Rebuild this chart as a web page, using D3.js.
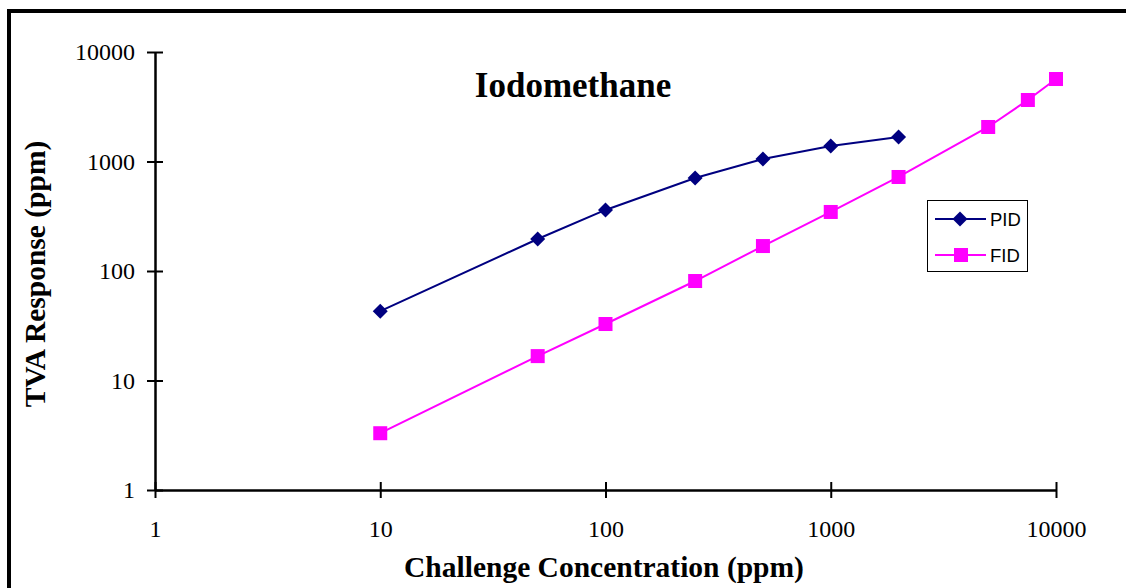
<!DOCTYPE html>
<html><head><meta charset="utf-8">
<script src="https://cdn.jsdelivr.net/npm/d3@7"></script>
<style>body{margin:0;background:#fff}svg{display:block}</style>
</head><body>
<script>
const pidX = [10, 50, 100, 250, 500, 1000, 2000];
const pidY = [43, 196, 361, 707, 1054, 1386, 1674];
const fidX = [10, 50, 100, 250, 500, 1000, 2000, 5000, 7500, 10000];
const fidY = [3.3, 16.7, 32.8, 81, 169, 346, 722, 2066, 3645, 5666];
const tickVals = [1, 10, 100, 1000, 10000];
const tickLabels = ["1", "10", "100", "1000", "10000"];
const seriesNames = ["PID", "FID"];
const title = "Iodomethane";
const xTitle = "Challenge Concentration (ppm)";
const yTitle = "TVA Response (ppm)";

const W = 1126, H = 588;
const svg = d3.select("body").append("svg").attr("width", W).attr("height", H);
svg.append("rect").attr("x", 9).attr("y", 11).attr("width", 1200).attr("height", 700)
  .attr("fill", "none").attr("stroke", "#000").attr("stroke-width", 4);

const x = d3.scaleLog().domain([1, 10000]).range([155, 1056]);
const y = d3.scaleLog().domain([1, 10000]).range([490, 52]);
const serif = "'Liberation Serif', 'Times New Roman', serif";

// axes
const xAxis = svg.append("g").attr("transform", "translate(0,490)")
  .call(d3.axisBottom(x).tickValues(tickVals).tickFormat((d, i) => tickLabels[i]).tickSizeInner(8).tickSizeOuter(0).tickPadding(22));
xAxis.selectAll(".tick line").attr("y1", -8);
const yAxis = svg.append("g").attr("transform", "translate(155,0)")
  .call(d3.axisLeft(y).tickValues(tickVals).tickFormat((d, i) => tickLabels[i]).tickSizeInner(8).tickSizeOuter(0).tickPadding(12));
yAxis.selectAll(".tick line").attr("x1", 8);
[xAxis, yAxis].forEach(a => {
  a.select(".domain").attr("stroke", "#000").attr("stroke-width", 2.5);
  a.selectAll(".tick line").attr("stroke", "#000").attr("stroke-width", 2);
  a.selectAll("text").attr("font-family", serif).attr("font-size", 24).attr("fill", "#000");
});

const line = d3.line().x(d => x(d[0])).y(d => y(d[1]));
const pid = pidX.map((v, i) => [v, pidY[i]]);
const fid = fidX.map((v, i) => [v, fidY[i]]);

svg.append("path").datum(fid).attr("d", line).attr("fill", "none").attr("stroke", "#FF00FF").attr("stroke-width", 2);
svg.append("path").datum(pid).attr("d", line).attr("fill", "none").attr("stroke", "#000080").attr("stroke-width", 2);

const sq = 14, dm = 7.5;
svg.selectAll(".fidm").data(fid).enter().append("rect")
  .attr("x", d => x(d[0]) - sq / 2).attr("y", d => y(d[1]) - sq / 2)
  .attr("width", sq).attr("height", sq).attr("fill", "#FF00FF");
const diamond = (cx, cy) => `M${cx},${cy - dm}L${cx + dm},${cy}L${cx},${cy + dm}L${cx - dm},${cy}Z`;
svg.selectAll(".pidm").data(pid).enter().append("path")
  .attr("d", d => diamond(x(d[0]), y(d[1]))).attr("fill", "#000080");

// titles
svg.append("text").attr("x", 573).attr("y", 97).attr("text-anchor", "middle")
  .attr("font-family", serif).attr("font-weight", "bold").attr("font-size", 35).text(title);
svg.append("text").attr("x", 604).attr("y", 577).attr("text-anchor", "middle")
  .attr("font-family", serif).attr("font-weight", "bold").attr("font-size", 29.5).text(xTitle);
svg.append("text").attr("transform", "translate(45,274) rotate(-90)").attr("text-anchor", "middle")
  .attr("font-family", serif).attr("font-weight", "bold").attr("font-size", 29.5).text(yTitle);

// legend
const lg = svg.append("g");
lg.append("rect").attr("x", 927.5).attr("y", 200.5).attr("width", 100).attr("height", 71)
  .attr("fill", "#fff").attr("stroke", "#000").attr("stroke-width", 1);
const colors = ["#000080", "#FF00FF"];
seriesNames.forEach((n, i) => {
  const ly = 219 + i * 36;
  lg.append("line").attr("x1", 935).attr("x2", 986).attr("y1", ly).attr("y2", ly)
    .attr("stroke", colors[i]).attr("stroke-width", 2);
  if (i === 0) lg.append("path").attr("d", diamond(960, ly)).attr("fill", colors[i]);
  else lg.append("rect").attr("x", 961 - sq / 2).attr("y", ly - sq / 2).attr("width", sq).attr("height", sq).attr("fill", colors[i]);
  lg.append("text").attr("x", 990).attr("y", ly + 7).attr("font-family", "'Liberation Sans', Arial, sans-serif")
    .attr("font-size", 18.5).text(n);
});
</script>
</body></html>
